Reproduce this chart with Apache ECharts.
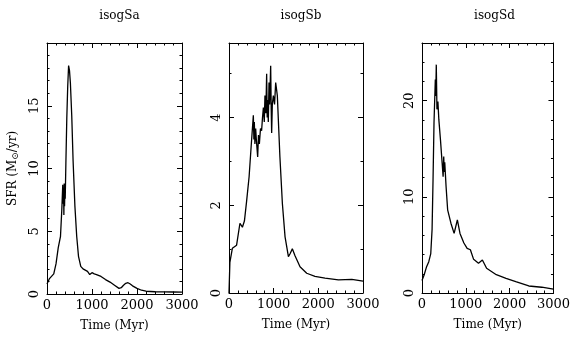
<!DOCTYPE html>
<html><head><meta charset="utf-8">
<script src="https://cdn.jsdelivr.net/npm/echarts@6/dist/echarts.min.js"></script>
<style>html,body{margin:0;padding:0;background:#fff}#c{width:573px;height:342px}</style>
</head><body><div id="c"></div>
<script>
const panelTitles = ['isogSa', 'isogSb', 'isogSd'];
const xTickLabels = [0, 1000, 2000, 3000];

const saTime = [0, 50, 100, 150, 200, 250, 280, 300, 330, 350, 360, 368, 375, 382, 390, 397, 405, 420, 440, 460, 480, 500, 520, 550, 580, 620, 660, 700, 750, 800, 850, 900, 950, 1000, 1050, 1100, 1200, 1300, 1400, 1500, 1600, 1650, 1700, 1750, 1800, 1850, 1900, 2000, 2100, 2200, 2400, 2600, 2800, 3000];
const saSFR  = [0.8, 1.2, 1.4, 1.6, 2.4, 3.7, 3.6, 4.6, 6.8, 8.7, 7.2, 8.4, 6.3, 8.8, 7.0, 8.2, 7.6, 10.5, 14.0, 16.5, 18.2, 17.8, 16.8, 14.2, 10.6, 7.0, 4.6, 3.0, 2.2, 2.0, 1.9, 1.8, 1.55, 1.7, 1.6, 1.55, 1.4, 1.15, 0.95, 0.7, 0.45, 0.5, 0.7, 0.85, 0.9, 0.8, 0.65, 0.45, 0.3, 0.22, 0.18, 0.17, 0.16, 0.15];

const sbTime = [0, 20, 75, 170, 245, 300, 345, 395, 450, 495, 545, 557, 567, 580, 597, 612, 642, 660, 680, 705, 730, 750, 770, 790, 805, 825, 843, 855, 866, 880, 896, 910, 933, 945, 955, 970, 993, 1020, 1045, 1082, 1140, 1195, 1255, 1330, 1370, 1418, 1478, 1590, 1740, 1925, 2150, 2450, 2750, 3000];
const sbSFR  = [0.0, 0.7, 1.02, 1.09, 1.59, 1.5, 1.64, 2.1, 2.65, 3.33, 4.05, 3.5, 3.9, 3.4, 3.75, 3.5, 3.1, 3.6, 3.4, 3.75, 3.7, 4.0, 4.23, 3.9, 4.5, 4.1, 5.0, 4.0, 4.4, 3.9, 4.8, 4.3, 5.18, 4.2, 3.65, 4.3, 4.5, 4.3, 4.8, 4.5, 3.1, 2.04, 1.28, 0.83, 0.9, 1.01, 0.85, 0.6, 0.45, 0.38, 0.34, 0.3, 0.31, 0.27];

const sdTime = [0, 50, 105, 155, 200, 230, 252, 274, 304, 314, 326, 341, 363, 385, 422, 460, 482, 496, 506, 519, 549, 585, 660, 733, 770, 807, 867, 956, 1030, 1104, 1178, 1289, 1378, 1474, 1696, 1918, 2140, 2437, 2733, 3000];
const sdSFR  = [1.3, 1.9, 2.74, 3.26, 4.1, 6.6, 11.8, 17.7, 22.2, 20.5, 23.75, 19.1, 19.9, 18.0, 15.9, 13.5, 12.1, 14.2, 12.6, 13.6, 11.1, 8.65, 7.26, 6.2, 6.9, 7.6, 6.2, 5.2, 4.65, 4.5, 3.5, 3.1, 3.44, 2.57, 1.9, 1.53, 1.18, 0.73, 0.6, 0.4];

const FONT = 'DejaVu Serif';
const grids = [
  {left: 47, top: 43, width: 135, height: 251, ymax: 20, major: 5, minor: 1},
  {left: 229, top: 43, width: 134, height: 250, ymax: 5.7, major: 2, minor: 1},
  {left: 422, top: 43, width: 135, height: 250, ymax: 26, major: 10, minor: 2}
];
const dataSets = [[saTime, saSFR], [sbTime, sbSFR], [sdTime, sdSFR]];

const xAxes = [], yAxes = [], series = [], titles = [];
const lineStyle = {color: '#000', width: 1};
grids.forEach((g, i) => {
  const xCommon = {gridIndex: i, type: 'value', min: 0, max: 3000, splitLine: {show: false}};
  xAxes.push(Object.assign({}, xCommon, {
    position: 'bottom', interval: 1000,
    axisLine: {show: true, onZero: false, lineStyle},
    axisTick: {inside: true, length: 5, lineStyle},
    axisLabel: {color: '#000', fontFamily: FONT, fontSize: 13, margin: 5,
      formatter: v => xTickLabels.includes(v) ? String(v) : ''},
    name: 'Time (Myr)', nameLocation: 'middle', nameGap: 26,
    nameTextStyle: {color: '#000', fontFamily: FONT, fontSize: 12}
  }));
  xAxes.push(Object.assign({}, xCommon, {
    position: 'bottom', interval: 200,
    axisLine: {show: false, onZero: false},
    axisTick: {inside: true, length: 2.5, lineStyle}, axisLabel: {show: false}
  }));
  xAxes.push(Object.assign({}, xCommon, {
    position: 'top', interval: 1000,
    axisLine: {show: true, onZero: false, lineStyle},
    axisTick: {inside: true, length: 5, lineStyle}, axisLabel: {show: false}
  }));
  xAxes.push(Object.assign({}, xCommon, {
    position: 'top', interval: 200,
    axisLine: {show: false, onZero: false},
    axisTick: {inside: true, length: 2.5, lineStyle}, axisLabel: {show: false}
  }));
  const yCommon = {gridIndex: i, type: 'value', min: 0, max: g.ymax, splitLine: {show: false}};
  const yLeft = Object.assign({}, yCommon, {
    position: 'left', interval: g.major,
    axisLine: {show: true, onZero: false, lineStyle},
    axisTick: {inside: true, length: 5, lineStyle},
    axisLabel: {color: '#000', fontFamily: FONT, fontSize: 13, rotate: 90, margin: 6, showMaxLabel: false,
      formatter: v => (Math.abs(v / g.major - Math.round(v / g.major)) < 1e-6) ? String(v) : ''}
  });
  if (i === 0) {
    yLeft.name = '{a|SFR (M}{s|⊙}{a|/yr)}';
    yLeft.nameLocation = 'middle';
    yLeft.nameRotate = 90;
    yLeft.nameGap = 27;
    yLeft.nameTextStyle = {rich: {
      a: {color: '#000', fontFamily: FONT, fontSize: 12},
      s: {color: '#000', fontFamily: FONT, fontSize: 9, verticalAlign: 'bottom', padding: [6, 0, 0, 0]}
    }};
  }
  yAxes.push(yLeft);
  yAxes.push(Object.assign({}, yCommon, {
    position: 'left', interval: g.minor,
    axisLine: {show: false, onZero: false},
    axisTick: {inside: true, length: 2.5, lineStyle}, axisLabel: {show: false}
  }));
  yAxes.push(Object.assign({}, yCommon, {
    position: 'right', interval: g.major,
    axisLine: {show: true, onZero: false, lineStyle},
    axisTick: {inside: true, length: 5, lineStyle}, axisLabel: {show: false}
  }));
  yAxes.push(Object.assign({}, yCommon, {
    position: 'right', interval: g.minor,
    axisLine: {show: false, onZero: false},
    axisTick: {inside: true, length: 2.5, lineStyle}, axisLabel: {show: false}
  }));
  const [tArr, vArr] = dataSets[i];
  series.push({
    type: 'line', xAxisIndex: i * 4, yAxisIndex: i * 4,
    data: tArr.map((t, k) => [t, vArr[k]]),
    showSymbol: false, symbol: 'none', lineStyle: {color: '#000', width: 1.3},
    animation: false, silent: true
  });
  titles.push({
    text: panelTitles[i], left: g.left + g.width / 2, top: 5, textAlign: 'center',
    textStyle: {color: '#000', fontFamily: FONT, fontSize: 12, fontWeight: 'normal'}
  });
});

const chart = echarts.init(document.getElementById('c'), null, {renderer: 'canvas'});
chart.setOption({
  backgroundColor: '#fff',
  animation: false,
  title: titles,
  grid: grids.map(g => ({left: g.left, top: g.top, width: g.width, height: g.height, containLabel: false})),
  xAxis: xAxes,
  yAxis: yAxes,
  series: series
});
</script>
</body></html>
